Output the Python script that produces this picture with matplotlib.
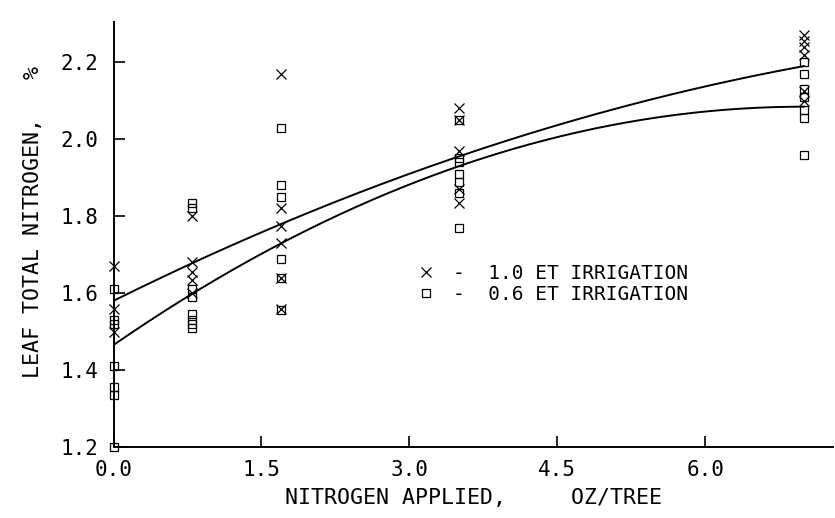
import numpy as np
import matplotlib
matplotlib.use("Agg")
import matplotlib.pyplot as plt

# nitrogen rates (oz/tree) where the trees were sampled
n_rates = [0.0, 0.8, 1.7, 3.5, 7.0]

# leaf total N (%), one list per rate
et10_leafN = [
    [1.67, 1.56, 1.50],
    [1.80, 1.68, 1.655, 1.635, 1.60],
    [2.17, 1.82, 1.775, 1.73, 1.64, 1.56],
    [2.08, 2.05, 1.97, 1.87, 1.835],
    [2.27, 2.255, 2.24, 2.22, 2.125, 2.10],
]
et06_leafN = [
    [1.61, 1.53, 1.52, 1.41, 1.355, 1.335, 1.20],
    [1.835, 1.82, 1.61, 1.59, 1.545, 1.53, 1.52, 1.51],
    [2.03, 1.88, 1.85, 1.69, 1.64, 1.555],
    [2.05, 1.95, 1.94, 1.91, 1.89, 1.86, 1.77],
    [2.20, 2.17, 2.13, 2.11, 2.075, 2.055, 1.96],
]

# fitted curves, read at a few points along each line
curve_x = [0.0, 1.7, 3.5, 5.25, 7.0]
curve_et10 = [1.58, 1.78, 1.955, 2.09, 2.19]
curve_et06 = [1.465, 1.73, 1.93, 2.045, 2.085]

x_ticks = [0.0, 1.5, 3.0, 4.5, 6.0]
y_ticks = [1.2, 1.4, 1.6, 1.8, 2.0, 2.2]


def flatten(rates, groups):
    xs, ys = [], []
    for r, g in zip(rates, groups):
        xs += [r] * len(g)
        ys += g
    return xs, ys


def main():
    plt.rcParams['font.family'] = ['DejaVu Sans Mono', 'DejaVu Sans']
    fig = plt.figure(figsize=(8.35, 5.18), dpi=100)
    ax = fig.add_axes([0.136, 0.137, 0.862, 0.82])

    x10, y10 = flatten(n_rates, et10_leafN)
    x06, y06 = flatten(n_rates, et06_leafN)

    h10, = ax.plot(x10, y10, ls='none', marker='x', ms=6.5, mew=0.9,
                   color='black', clip_on=False)
    h06, = ax.plot(x06, y06, ls='none', marker='s', ms=5.5, mew=0.9,
                   mfc='none', color='black', clip_on=False)

    # quadratic through the points
    xx = np.linspace(0, 7.0, 200)
    for cy in (curve_et10, curve_et06):
        p = np.polyfit(curve_x, cy, 2)
        ax.plot(xx, np.polyval(p, xx), color='black', lw=1.4)

    ax.set_xlim(0, 7.3)
    ax.set_ylim(1.2, 2.304)
    ax.set_xticks(x_ticks)
    ax.set_yticks(y_ticks)
    ax.set_xticklabels([f"{v:.1f}" for v in x_ticks])
    ax.set_yticklabels([f"{v:.1f}" for v in y_ticks])

    for s in ('top', 'right'):
        ax.spines[s].set_visible(False)
    for s in ('left', 'bottom'):
        ax.spines[s].set_linewidth(1.4)
    ax.tick_params(direction='in', length=8, width=1.2, labelsize=15,
                   colors='black')
    ax.tick_params(axis='x', pad=9)
    ax.tick_params(axis='y', pad=11)

    ax.set_xlabel("NITROGEN APPLIED,     OZ/TREE", fontsize=15.5)
    ax.set_ylabel("LEAF TOTAL NITROGEN,   %", fontsize=15.5)
    ax.xaxis.set_label_coords(0.5, -0.097)
    ax.yaxis.set_label_coords(-0.098, 0.53)

    ax.legend([h10, h06], ["-  1.0 ET IRRIGATION", "-  0.6 ET IRRIGATION"],
              loc='upper left', bbox_to_anchor=(0.41, 0.45), frameon=False,
              handlelength=1.0, handletextpad=0.9, labelspacing=0.1,
              fontsize=14, borderaxespad=0)

    fig.savefig("out.png", dpi=100)


if __name__ == "__main__":
    main()
